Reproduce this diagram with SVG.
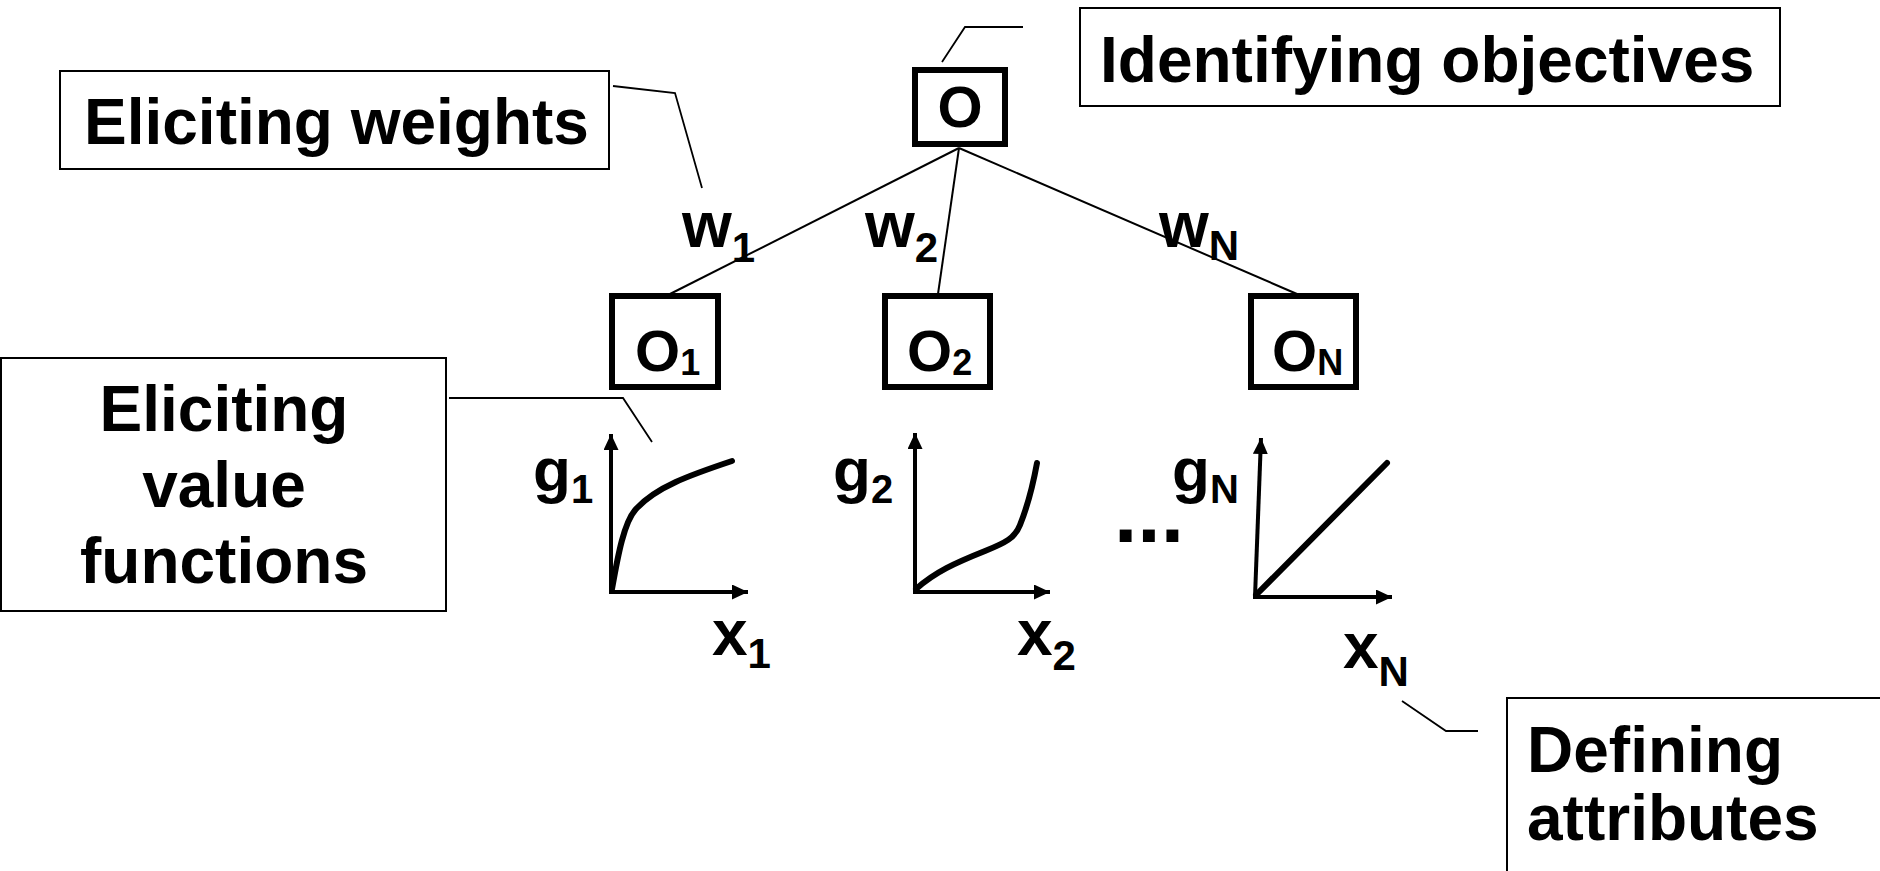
<svg xmlns="http://www.w3.org/2000/svg" width="1880" height="871" viewBox="0 0 1880 871">
<defs>
<style>
.t{font-family:"Liberation Sans",Arial,Helvetica,sans-serif;font-weight:bold;fill:#000}
.lbl{fill:#fff;stroke:#000;stroke-width:2}
.obj{fill:#fff;stroke:#000;stroke-width:6}
.con{fill:none;stroke:#000;stroke-width:2}
.lead{fill:none;stroke:#000;stroke-width:1.8}
.axis{fill:none;stroke:#000;stroke-width:4}
.curve{fill:none;stroke:#000;stroke-width:6;stroke-linecap:round;stroke-linejoin:round}
</style>
<marker id="ah" markerUnits="userSpaceOnUse" markerWidth="18" markerHeight="16" refX="16" refY="7.5" orient="auto">
<path d="M0,0 L16,7.5 L0,15 Z" fill="#000"/>
</marker>
</defs>
<rect width="1880" height="871" fill="#fff"/>

<g id="connectors">
<path class="con" d="M959,148 L670,294"/>
<path class="con" d="M959,148 L938,294"/>
<path class="con" d="M959,148 L1297,294"/>
<path class="lead" d="M613,86 L675,93 L702,188"/>
<path class="lead" d="M942,62 L965,27 L1023,27"/>
<path class="lead" d="M449,398 L623,398 L652,442"/>
<path class="lead" d="M1402,701 L1446,731 L1478,731"/>
</g>

<g id="label-weights">
<rect class="lbl" x="60" y="71" width="549" height="98"/>
<text class="t" x="84" y="144" font-size="64">Eliciting weights</text>
</g>

<g id="label-objectives">
<rect class="lbl" x="1080" y="8" width="700" height="98"/>
<text class="t" x="1100" y="82" font-size="64">Identifying objectives</text>
</g>

<g id="label-value-functions">
<rect class="lbl" x="1" y="358" width="445" height="253"/>
<text class="t" x="224" y="431" font-size="64" text-anchor="middle">Eliciting</text>
<text class="t" x="224" y="507" font-size="64" text-anchor="middle">value</text>
<text class="t" x="224" y="583" font-size="64" text-anchor="middle">functions</text>
</g>

<g id="label-attributes">
<rect class="lbl" x="1507" y="698" width="400" height="200"/>
<text class="t" x="1527" y="772" font-size="64">Defining</text>
<text class="t" x="1527" y="840" font-size="64">attributes</text>
</g>

<g id="node-O">
<rect class="obj" x="915" y="70" width="90" height="74"/>
<text class="t" x="960" y="127" font-size="58" text-anchor="middle">O</text>
</g>

<g id="node-O1">
<rect class="obj" x="612" y="296" width="106" height="91"/>
<text class="t" x="635" y="371" font-size="58">O<tspan font-size="36" dy="4">1</tspan></text>
</g>

<g id="node-O2">
<rect class="obj" x="885" y="296" width="105" height="91"/>
<text class="t" x="907" y="371" font-size="58">O<tspan font-size="36" dy="4">2</tspan></text>
</g>

<g id="node-ON">
<rect class="obj" x="1251" y="296" width="105" height="91"/>
<text class="t" x="1272" y="371" font-size="58">O<tspan font-size="36" dy="4">N</tspan></text>
</g>

<g id="weight-labels">
<text class="t" x="682" y="247" font-size="64">w<tspan font-size="42" dy="15">1</tspan></text>
<text class="t" x="865" y="247" font-size="64">w<tspan font-size="42" dy="15">2</tspan></text>
<text class="t" x="1159" y="247" font-size="64">w<tspan font-size="42" dy="13">N</tspan></text>
</g>

<g id="graph-1">
<path class="axis" d="M611,592 L611,434" marker-end="url(#ah)"/>
<path class="axis" d="M609,592 L748,592" marker-end="url(#ah)"/>
<path class="curve" d="M612,589 C618,555 624,522 636,509 C656,487 690,475 732,461"/>
<text class="t" x="533" y="491" font-size="62">g<tspan font-size="40" dy="12">1</tspan></text>
<text class="t" x="712" y="655" font-size="64">x<tspan font-size="42" dy="13">1</tspan></text>
</g>

<g id="graph-2">
<path class="axis" d="M915,592 L915,433" marker-end="url(#ah)"/>
<path class="axis" d="M913,592 L1050,592" marker-end="url(#ah)"/>
<path class="curve" d="M916,589 C935,572 955,563 985,551 C1005,543 1015,538 1020,525 C1028,505 1033,485 1037,463"/>
<text class="t" x="833" y="491" font-size="62">g<tspan font-size="40" dy="12">2</tspan></text>
<text class="t" x="1017" y="655" font-size="64">x<tspan font-size="42" dy="15">2</tspan></text>
</g>

<g id="graph-N">
<path class="axis" d="M1255,597 L1261,438" marker-end="url(#ah)"/>
<path class="axis" d="M1253,597 L1392,597" marker-end="url(#ah)"/>
<path class="curve" d="M1256,595 L1387,463"/>
<text class="t" x="1172" y="491" font-size="62">g<tspan font-size="40" dy="12">N</tspan></text>
<text class="t" x="1343" y="668" font-size="64">x<tspan font-size="42" dy="18">N</tspan></text>
</g>

<g id="ellipsis">
<text class="t" x="1114" y="542" font-size="84">...</text>
</g>
</svg>
